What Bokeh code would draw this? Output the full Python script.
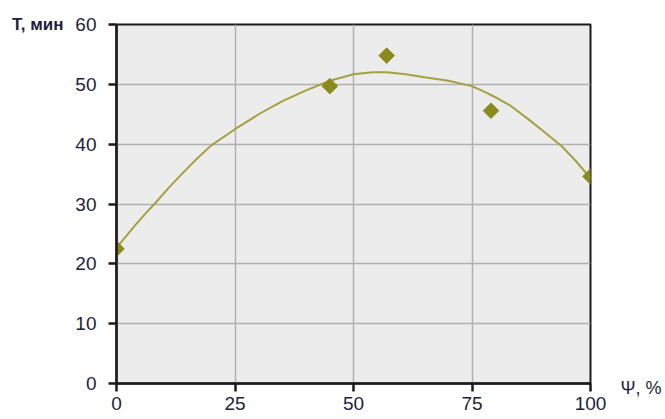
import numpy as np
from bokeh.plotting import figure
from bokeh.models import Range1d, FixedTicker, LinearAxis
from bokeh.embed import file_html
from bokeh.resources import INLINE

# measured points (Ψ, % ; T, мин)
psi_pts = [0, 45, 57, 79, 100]
t_pts = [22.5, 49.7, 54.8, 45.6, 34.6]

# fitted curve
psi_curve = [0, 2, 4, 6, 8, 11, 14, 17, 20, 25, 30, 35, 40, 45, 50, 54, 57, 61, 65, 70, 75, 78, 80, 83, 87, 90, 94, 97, 100]
t_curve = [22.7, 24.6, 26.5, 28.3, 30.0, 32.7, 35.2, 37.6, 39.8, 42.5, 45.0, 47.2, 49.0, 50.6, 51.7, 52.0, 52.0, 51.7, 51.2, 50.6, 49.7, 48.6, 47.8, 46.5, 44.1, 42.2, 39.6, 37.1, 34.3]

x_ticks = [0, 25, 50, 75, 100]
y_ticks = [0, 10, 20, 30, 40, 50, 60]
y_title = "Т, мин"
x_title = "Ψ, %"

FONT = "Liberation Sans Narrow, Liberation Sans, sans-serif"
TXT = "#1e1e3a"
OLIVE = "#8b8a1c"
LINE = "#a3a23f"

p = figure(width=665, height=419, output_backend="svg", toolbar_location=None,
           x_range=Range1d(0, 100), y_range=Range1d(0, 60),
           min_border_left=116, min_border_right=75, min_border_top=24, min_border_bottom=36)
p.extra_y_ranges = {"lab": Range1d(0, 60)}

p.background_fill_color = "#ececec"
p.border_fill_color = "white"
p.outline_line_color = "#1a1a1a"
p.outline_line_width = 2

for g in (p.xgrid, p.ygrid):
    g.grid_line_color = "#b0b0b0"
    g.grid_line_width = 1.5
p.xgrid.ticker = FixedTicker(ticks=x_ticks)
p.ygrid.ticker = FixedTicker(ticks=y_ticks)

for ax, ticks in ((p.xaxis, x_ticks), (p.yaxis, y_ticks)):
    ax.ticker = FixedTicker(ticks=ticks)
    ax.axis_line_color = "#1a1a1a"
    ax.axis_line_width = 2.5
    ax.major_tick_line_color = "#1a1a1a"
    ax.major_tick_line_width = 2.5
    ax.major_tick_in = 0
    ax.minor_tick_line_color = None
    ax.major_label_text_font = FONT
    ax.major_label_text_color = TXT
p.xaxis.major_tick_out = 8
p.xaxis.major_label_standoff = 5
p.xaxis.major_label_text_font_size = "19px"
p.yaxis.major_tick_out = 8
p.yaxis.major_label_standoff = 12
p.yaxis.major_label_text_font_size = "19px"

# axis titles drawn as extra, line-less axes
t_axis = LinearAxis(ticker=FixedTicker(ticks=[60]), major_label_overrides={60: y_title},
                    axis_line_color=None, major_tick_line_color=None, minor_tick_line_color=None,
                    major_tick_out=0, major_label_standoff=9, major_label_text_font=FONT,
                    major_label_text_font_size="17px", major_label_text_font_style="bold",
                    major_label_text_color=TXT)
p.add_layout(t_axis, "left")

psi_axis = LinearAxis(y_range_name="lab", ticker=FixedTicker(ticks=[0]),
                      major_label_overrides={0: "\n\n\n\n" + x_title},
                      axis_line_color=None, major_tick_line_color=None, minor_tick_line_color=None,
                      major_tick_out=0, major_label_standoff=30, major_label_text_font=FONT,
                      major_label_text_font_size="18px", major_label_text_color=TXT)
p.add_layout(psi_axis, "right")

p.line(psi_curve, t_curve, line_color=LINE, line_width=2)
p.scatter(psi_pts, t_pts, marker="square", angle=np.pi / 4, size=11,
          fill_color=OLIVE, line_color=OLIVE)

open("out.html", "w").write(file_html(p, INLINE))
